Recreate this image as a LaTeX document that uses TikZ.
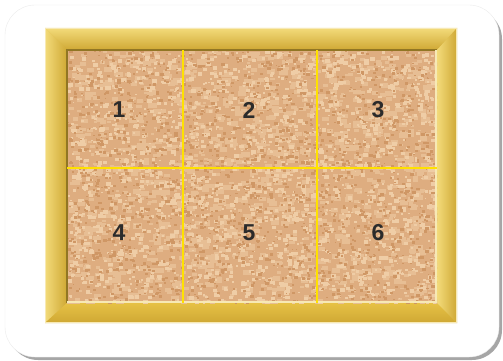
\documentclass[tikz,border=0pt]{standalone}
\usepackage{fontspec}
\setmainfont{Liberation Sans}
\definecolor{corkbase}{HTML}{DEAD80}
\definecolor{corklight}{HTML}{EFCDA6}
\definecolor{corkmid}{HTML}{E7BE94}
\definecolor{corkdark}{HTML}{CF9765}
\definecolor{framegold}{HTML}{E6C145}
\definecolor{framelight}{HTML}{F3DB7A}
\definecolor{framedark}{HTML}{CFA834}
\definecolor{framecream}{HTML}{F7E9B5}
\definecolor{gridyellow}{HTML}{FFE100}
\definecolor{numgray}{HTML}{2B2B2B}
\begin{document}
\begin{tikzpicture}[
x=1pt,y=-1pt,
cardshadow/.style={fill=black!35,rounded corners=30pt},
card/.style={fill=white,draw=black!8,rounded corners=30pt},
gridline/.style={gridyellow,line width=2.4pt},
every node/.style={font=\fontsize{23}{23}\selectfont\bfseries,text=numgray}
]
\useasboundingbox (0,0) rectangle (503,361);
% card
\fill[cardshadow] (8,9) rectangle (502,360);
\filldraw[card] (5,5) rectangle (499,357);
% frame
\fill[framegold] (45,28) rectangle (457,323);
\shade[top color=framelight,bottom color=framedark] (45,28) -- (457,28) -- (437,50) -- (67,50) -- cycle;
\shade[left color=framelight,right color=framedark] (45,28) -- (67,50) -- (67,303) -- (45,323) -- cycle;
\shade[top color=framegold,bottom color=framedark] (45,323) -- (67,303) -- (437,303) -- (457,323) -- cycle;
\shade[left color=framelight,right color=framedark] (457,28) -- (437,50) -- (437,303) -- (457,323) -- cycle;
\draw[framecream,line width=1.5pt] (45.7,28.7) rectangle (456.3,322.3);
% cork
\fill[corkbase] (67,50) rectangle (437,303);
\begin{scope}
\clip (67,50) rectangle (437,303);
\pgfmathsetseed{11}
\foreach \i in {1,...,1400}{
  \pgfmathsetmacro\px{67+370*rnd}
  \pgfmathsetmacro\py{50+253*rnd}
  \pgfmathsetmacro\sz{3+6*rnd}
  \fill[corkmid] (\px,\py) rectangle ++(\sz,0.6*\sz);
}
\foreach \i in {1,...,2000}{
  \pgfmathsetmacro\px{67+370*rnd}
  \pgfmathsetmacro\py{50+253*rnd}
  \pgfmathsetmacro\sz{1.5+3.5*rnd}
  \fill[corklight] (\px,\py) rectangle ++(\sz,0.8*\sz);
}
\foreach \i in {1,...,1800}{
  \pgfmathsetmacro\px{67+370*rnd}
  \pgfmathsetmacro\py{50+253*rnd}
  \pgfmathsetmacro\sz{1.2+2.5*rnd}
  \fill[corkdark] (\px,\py) rectangle ++(\sz,0.8*\sz);
}
\end{scope}
\draw[black!30!framedark,line width=1.2pt] (67,303) -- (67,50) -- (437,50);
\draw[framecream,line width=2pt] (67,302) -- (436,302) -- (436,50);
% grid
\draw[gridline] (183,50) -- (183,303);
\draw[gridline] (317,50) -- (317,303);
\draw[gridline] (67,168) -- (437,168);
% numbers
\node (1) at (119,110) {1};
\node (2) at (249,110) {2};
\node (3) at (378,110) {3};
\node (4) at (119,233) {4};
\node (5) at (249,233) {5};
\node (6) at (378,233) {6};
\end{tikzpicture}
\end{document}
